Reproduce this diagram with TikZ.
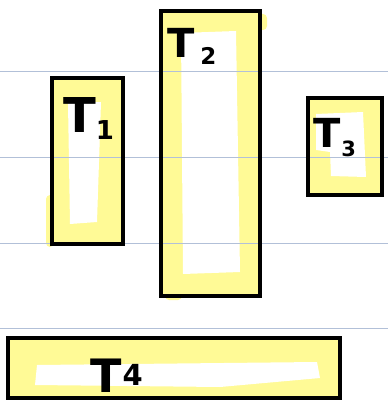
\documentclass[tikz,border=0pt]{standalone}
\usepackage{fontspec}
\setmainfont{DejaVu Sans}
\definecolor{hl}{RGB}{255,250,150}
\definecolor{rule}{RGB}{178,192,216}
\newcommand{\mylab}[5]{{\fontsize{#1}{#1}\selectfont T}\kern#3pt\raisebox{#4pt}{\fontsize{#2}{#2}\selectfont #5}}
\begin{document}
\begin{tikzpicture}[x=1pt,y=-1pt,
  hlfill/.style={fill=hl},
  blank/.style={fill=white},
  rulerline/.style={draw=rule,line width=1pt},
  boxline/.style={draw=black,line width=3.5pt},
  lab/.style={anchor=north west,inner sep=0pt,text=black,font=\bfseries}]
\useasboundingbox (0,0) rectangle (388,401);
% yellow highlight
\fill[hlfill] (52,78) rectangle (123,244);
\fill[hlfill] (161,11) rectangle (260,296);
\fill[hlfill] (308,98) rectangle (382,195);
\fill[hlfill] (8,338) rectangle (340,398);
\fill[hlfill,rounded corners=4pt] (46,195) rectangle (54,247);
\fill[hlfill,rounded corners=4pt] (256,14) rectangle (267,30);
\fill[hlfill,rounded corners=4pt] (165,292) rectangle (182,300);
% white interiors
\fill[blank] (68,103) -- (101,102) -- (97,222) -- (70,224) -- cycle;
\fill[blank] (181,33) -- (236,31) -- (240,272) -- (183,274) -- cycle;
\fill[blank] (316,114) -- (363,112) -- (366,177) -- (331,176) -- (330,152) -- (316,150) -- cycle;
\fill[blank] (37,365) -- (317,362) -- (320,378) -- (220,387) -- (35,385) -- cycle;
% ruled lines
\coordinate (l1a) at (0,71.5);  \coordinate (l1b) at (388,71.5);
\coordinate (l2a) at (0,157);   \coordinate (l2b) at (388,157);
\coordinate (l3a) at (0,243);   \coordinate (l3b) at (388,243);
\coordinate (l4a) at (0,328);   \coordinate (l4b) at (388,328);
\draw[rulerline] (l1a) -- (l1b);
\draw[rulerline] (l2a) -- (l2b);
\draw[rulerline] (l3a) -- (l3b);
\draw[rulerline] (l4a) -- (l4b);
% box borders
\draw[boxline] (52,78) rectangle (123,244);
\draw[boxline] (161,11) rectangle (260,296);
\draw[boxline] (308,98) rectangle (382,195);
\draw[boxline] (8,338) rectangle (340,398);
% labels
\node[lab] (t1) at (63,97) {\mylab{48}{26}{0}{-7}{1}};
\node[lab] (t2) at (167,28) {\mylab{40}{23}{6}{-7}{2}};
\node[lab] (t3) at (313,118) {\mylab{40}{21}{1}{-9}{3}};
\node[lab] (t4) at (90,359) {\mylab{46}{29}{1}{7}{4}};
\end{tikzpicture}
\end{document}
